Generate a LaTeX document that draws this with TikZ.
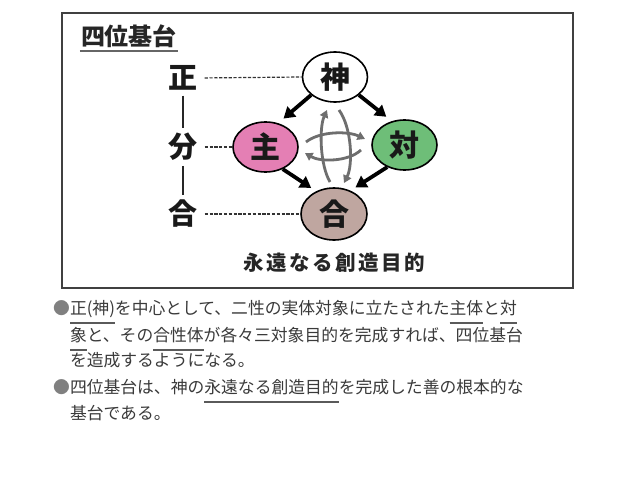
\documentclass[tikz,border=0pt]{standalone}
\usepackage{fontspec}
\newfontfamily\cjk{Noto Sans CJK JP}
\newfontfamily\cjkls[LetterSpace=12]{Noto Sans CJK JP}
\usetikzlibrary{arrows.meta,shapes.geometric}
\definecolor{pinkc}{HTML}{E47FB4}
\definecolor{greenc}{HTML}{6EBE78}
\definecolor{brownc}{HTML}{BFA6A0}
\definecolor{txtc}{HTML}{3A3A3A}
\definecolor{arrgray}{HTML}{6E6E6E}
\definecolor{ulgray}{HTML}{5A5A5A}
\definecolor{bulgray}{HTML}{808080}
\newbox\ulbx
\newcommand\ulx[1]{\setbox\ulbx\hbox{#1}\rlap{\textcolor{ulgray}{\rule[-9.5pt]{\wd\ulbx}{1.1pt}}}\box\ulbx}
\tikzset{
  circ/.style={ellipse, draw=black, line width=1.6pt, minimum width=65pt, minimum height=50pt, inner sep=0pt, font=\cjk\bfseries\fontsize{30}{30}\selectfont, text=black!90},
  lab/.style={inner sep=0pt, font=\cjk\bfseries\fontsize{29}{29}\selectfont, text=black!90},
  blk/.style={line width=3.8pt, -{Triangle[length=11pt,width=13pt]}, shorten >=7pt},
  gry/.style={draw=arrgray, line width=2.8pt, -{Triangle[length=7.5pt,width=8.5pt]}},
  dsh/.style={dash pattern=on 3.2pt off 1.6pt, line width=1.2pt, draw=black!80, shorten <=7pt},
  vln/.style={line width=2pt, draw=black!85, shorten <=5pt, shorten >=5pt},
  body/.style={anchor=base west, inner sep=0pt, text=txtc, font=\cjk\fontsize{16.8}{20}\selectfont}
}
\begin{document}
\begin{tikzpicture}[x=1pt,y=-1pt]
\useasboundingbox (0,0) rectangle (638,479);
\fill[white] (0,0) rectangle (638,479);
% frame
\draw[line width=2pt, draw=black!75] (62,13) rectangle (573,288);
% title
\node[inner sep=0pt, font=\cjk\bfseries\fontsize{24}{24}\selectfont, text=black!85] (title) at (129,36) {四位基台};
\draw[line width=1.6pt, draw=black!60] ([yshift=-3pt,xshift=-1pt]title.south west) -- ([yshift=-3pt,xshift=1pt]title.south east);
% circles
\node[circ, fill=white] (shin) at (335,77) {神};
\node[circ, fill=pinkc] (shu) at (265.5,147) {主};
\node[circ, fill=greenc] (tai) at (404.5,145) {対};
\node[circ, fill=brownc, minimum width=66pt, minimum height=52pt] (go) at (334,214) {合};
% left labels
\node[lab] (sei) at (183,78) {正};
\node[lab] (bun) at (183,147) {分};
\node[lab] (gou) at (183,214) {合};
\draw[vln] (sei) -- (bun);
\draw[vln] (bun) -- (gou);
\draw[dsh] (sei.east) -- (shin.west);
\draw[dsh] (bun.east) -- (shu.west);
\draw[dsh] (gou.east) -- (go.west);
% black arrows
\draw[blk] (shin.217) -- (shu.62);
\draw[blk] (shin.323) -- (tai.118);
\draw[blk, shorten >=6pt] (shu.-52) -- (go.128);
\draw[blk, shorten >=6pt] (tai.232) -- (go.55);
% gray arrows
\draw[gry] (330,182) .. controls (320,165) and (319,128) .. (327,110);
\draw[gry] (339,110) .. controls (352,128) and (353,165) .. (344,183);
\draw[gry] (306,142) .. controls (320,131) and (348,131) .. (365,139);
\draw[gry] (361,150) .. controls (348,162) and (320,162) .. (305,153);
% caption
\node[inner sep=0pt, font=\cjkls\bfseries\fontsize{20.5}{20}\selectfont, text=black!85] (cap) at (334,263) {永遠なる創造目的};
% body text
\node[body] (l1) at (53,314) {{\color{bulgray}●}\ulx{正(神)}を中心として、二性の実体対象に立たされた\ulx{主体}と\ulx{対}};
\node[body] (l2) at (69.8,341) {\ulx{象}と、その\ulx{合性体}が各々三対象目的を完成すれば、四位基台};
\node[body] (l3) at (69.8,366) {を造成するようになる。};
\node[body] (l4) at (53,393) {{\color{bulgray}●}四位基台は、神の\ulx{永遠なる創造目的}を完成した善の根本的な};
\node[body] (l5) at (69.8,419) {基台である。};
\end{tikzpicture}
\end{document}
